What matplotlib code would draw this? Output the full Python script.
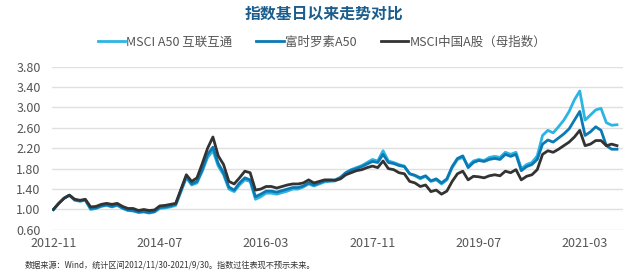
import matplotlib
matplotlib.use("Agg")
import matplotlib.pyplot as plt
import numpy as np

plt.rcParams['font.family'] = ['Noto Sans CJK SC', 'DejaVu Sans']

# 月度数据 2012-11 ~ 2021-09
msci_a50 = [1.00, 1.12,
            1.22, 1.28, 1.18, 1.16, 1.18, 1.00, 1.02, 1.06, 1.08, 1.05, 1.08, 1.02,
            0.98, 0.97, 0.94, 0.95, 0.93, 0.95, 1.02, 1.03, 1.05, 1.08, 1.35, 1.62,
            1.48, 1.52, 1.75, 2.02, 2.15, 1.85, 1.68, 1.40, 1.35, 1.48, 1.58, 1.55,
            1.20, 1.25, 1.32, 1.32, 1.30, 1.33, 1.36, 1.40, 1.40, 1.44, 1.50, 1.46,
            1.50, 1.54, 1.55, 1.56, 1.62, 1.72, 1.78, 1.82, 1.86, 1.92, 1.98, 1.95,
            2.15, 1.95, 1.92, 1.88, 1.85, 1.70, 1.66, 1.60, 1.65, 1.55, 1.58, 1.50,
            1.58, 1.82, 1.98, 2.02, 1.85, 1.95, 1.98, 1.96, 2.02, 2.04, 2.02, 2.12,
            2.08, 2.12, 1.80, 1.88, 1.92, 2.05, 2.45, 2.55, 2.50, 2.62, 2.75, 2.92,
            3.15, 3.32, 2.75, 2.85, 2.95, 2.98, 2.70, 2.65, 2.66]
ftse_a50 = [1.00, 1.12,
            1.22, 1.28, 1.19, 1.17, 1.19, 1.02, 1.03, 1.07, 1.09, 1.06, 1.09, 1.03,
            0.99, 0.98, 0.95, 0.96, 0.94, 0.96, 1.04, 1.05, 1.07, 1.10, 1.38, 1.65,
            1.50, 1.55, 1.78, 2.08, 2.22, 1.90, 1.72, 1.44, 1.38, 1.52, 1.62, 1.58,
            1.25, 1.30, 1.36, 1.36, 1.34, 1.37, 1.40, 1.43, 1.43, 1.46, 1.52, 1.48,
            1.52, 1.56, 1.57, 1.58, 1.63, 1.72, 1.77, 1.80, 1.84, 1.89, 1.94, 1.92,
            2.08, 1.92, 1.90, 1.86, 1.84, 1.70, 1.67, 1.62, 1.66, 1.56, 1.60, 1.52,
            1.60, 1.84, 2.00, 2.05, 1.82, 1.92, 1.96, 1.94, 1.98, 2.00, 1.98, 2.08,
            2.04, 2.08, 1.76, 1.84, 1.88, 1.98, 2.28, 2.36, 2.32, 2.40, 2.48, 2.58,
            2.75, 2.92, 2.45, 2.52, 2.62, 2.55, 2.25, 2.18, 2.18]
msci_china_a = [1.00, 1.12,
                1.22, 1.28, 1.20, 1.18, 1.20, 1.05, 1.06, 1.10, 1.12, 1.10, 1.12, 1.06,
                1.02, 1.02, 0.98, 1.00, 0.98, 0.99, 1.07, 1.08, 1.10, 1.12, 1.40, 1.68,
                1.55, 1.62, 1.90, 2.20, 2.42, 2.05, 1.88, 1.55, 1.50, 1.62, 1.75, 1.72,
                1.38, 1.40, 1.45, 1.45, 1.42, 1.45, 1.48, 1.50, 1.50, 1.52, 1.58, 1.52,
                1.55, 1.58, 1.58, 1.57, 1.60, 1.68, 1.72, 1.76, 1.78, 1.82, 1.85, 1.82,
                1.95, 1.80, 1.78, 1.72, 1.70, 1.55, 1.52, 1.45, 1.48, 1.35, 1.38, 1.30,
                1.36, 1.55, 1.70, 1.75, 1.58, 1.65, 1.64, 1.62, 1.66, 1.68, 1.66, 1.75,
                1.72, 1.78, 1.58, 1.65, 1.68, 1.78, 2.08, 2.15, 2.12, 2.18, 2.25, 2.32,
                2.42, 2.55, 2.25, 2.28, 2.35, 2.35, 2.25, 2.28, 2.25]

series_names = ['MSCI A50 互联互通', '富时罗素A50', 'MSCI中国A股（母指数）']
colors = ['#2cb4e2', '#0a79b4', '#333333']
tick_pos = [0, 20, 40, 60, 80, 100]
tick_labels = ['2012-11', '2014-07', '2016-03', '2017-11', '2019-07', '2021-03']
yticks = [0.60, 1.00, 1.40, 1.80, 2.20, 2.60, 3.00, 3.40, 3.80]

fig = plt.figure(figsize=(6.4, 2.76), dpi=100)
ax = fig.add_axes([0.081, 0.167, 0.893, 0.592])

x = np.arange(len(msci_china_a))
for data, name, c in zip([msci_a50, ftse_a50, msci_china_a], series_names, colors):
    ax.plot(x, data, color=c, lw=2.0, label=name, solid_joinstyle='round')

ax.set_xlim(-0.3, 107.2)
ax.set_ylim(0.6, 3.8)
ax.set_yticks(yticks)
ax.set_yticklabels(['%.2f' % v for v in yticks])
ax.set_xticks(tick_pos)
ax.set_xticklabels(tick_labels)
ax.yaxis.grid(True, color='#e0e0e0', lw=1)
ax.set_axisbelow(True)
for s in ax.spines.values():
    s.set_visible(False)
ax.tick_params(length=0, labelsize=9, colors='#555555')
ax.tick_params(axis='y', pad=8)
ax.tick_params(axis='x', pad=5)

fig.text(0.506, 0.952, '指数基日以来走势对比', ha='center', va='center',
         fontsize=11.4, fontweight='bold', color='#1b5e8e')
fig.legend(loc='center', bbox_to_anchor=(0.503, 0.848), ncol=3, frameon=False,
           fontsize=9, handlelength=2.2, handletextpad=0.1, columnspacing=1.9,
           labelcolor='#555555')
fig.text(0.039, 0.04, '数据来源：Wind，统计区间2012/11/30-2021/9/30。指数过往表现不预示未来。',
         ha='left', va='center', fontsize=5.9, color='#333333')

fig.savefig('out.png', dpi=100)
